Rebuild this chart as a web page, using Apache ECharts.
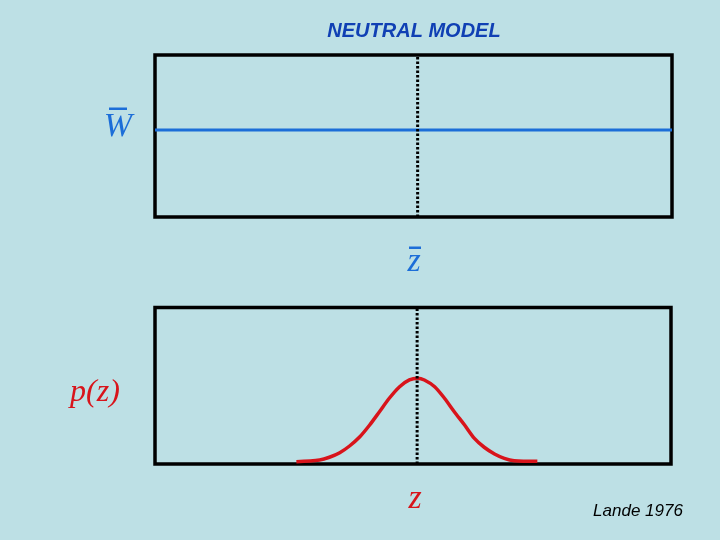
<!DOCTYPE html>
<html>
<head>
<meta charset="utf-8">
<script src="https://cdn.jsdelivr.net/npm/echarts@6/dist/echarts.min.js"></script>
<style>
html,body{margin:0;padding:0;background:#bde0e5;}
#chart{width:720px;height:540px;}
</style>
</head>
<body>
<div id="chart"></div>
<script>
// Data (x in percent of the trait axis, y in percent of panel height)
const zMean = 50.8;                 // position of z-bar
const fitnessLevel = 53.7;          // W-bar (flat: neutral model)
const fitnessX = [0, 100];
const curveX = [27.4, 31.9, 33.8, 35.8, 37.7, 39.7, 41.6, 43.5, 45.4, 47.4, 49.3, 50.9, 52.2, 54.2, 56.1, 58.0, 60.0, 61.9, 63.8, 65.8, 67.7, 69.6, 74.1];
const curveY = [1.5, 2.6, 4.3, 7.2, 11.5, 17.4, 24.9, 33.4, 42.0, 49.4, 53.7, 54.8, 53.7, 49.4, 42.0, 33.4, 24.9, 16.4, 10.7, 6.4, 3.6, 2.1, 1.7];
const titleText = 'NEUTRAL MODEL';
const creditText = 'Lande 1976';

const chart = echarts.init(document.getElementById('chart'));
const blue = '#1c6ed8';
const red = '#d8141b';
const hiddenAxis = {type:'value', min:0, max:100, show:true,
  axisLine:{show:false}, axisTick:{show:false}, axisLabel:{show:false}, splitLine:{show:false}};

chart.setOption({
  backgroundColor: '#bde0e5',
  animation: false,
  grid: [
    {left:155, top:55, width:517, height:162, show:true, borderColor:'#000', borderWidth:3.5, backgroundColor:'transparent'},
    {left:155, top:307.5, width:516, height:156.5, show:true, borderColor:'#000', borderWidth:3.5, backgroundColor:'transparent'}
  ],
  xAxis: [Object.assign({gridIndex:0}, hiddenAxis), Object.assign({gridIndex:1}, hiddenAxis)],
  yAxis: [Object.assign({gridIndex:0}, hiddenAxis), Object.assign({gridIndex:1}, hiddenAxis)],
  series: [
    {type:'line', xAxisIndex:0, yAxisIndex:0, showSymbol:false, z:3,
     data: fitnessX.map(x => [x, fitnessLevel]),
     lineStyle:{color:blue, width:3}},
    {type:'line', xAxisIndex:0, yAxisIndex:0, showSymbol:false, z:4,
     data: [[zMean, 0], [zMean, 100]],
     lineStyle:{color:'#000', width:3, type:[2.5,2]}},
    {type:'line', xAxisIndex:1, yAxisIndex:1, showSymbol:false, z:3, smooth:0.3,
     data: curveX.map((x,i) => [x, curveY[i]]),
     lineStyle:{color:red, width:3.5}},
    {type:'line', xAxisIndex:1, yAxisIndex:1, showSymbol:false, z:4,
     data: [[zMean, 0], [zMean, 100]],
     lineStyle:{color:'#000', width:3, type:[2.5,2]}}
  ],
  graphic: [
    {type:'text', x:414, y:31, style:{text:titleText, fill:'#1040b4', font:'italic bold 20px "Liberation Sans", Arial, sans-serif', align:'center', verticalAlign:'middle'}},
    {type:'text', x:118, y:127, style:{text:'W', fill:blue, font:'italic 34px "Liberation Serif", "Times New Roman", serif', align:'center', verticalAlign:'middle'}},
    {type:'rect', shape:{x:109, y:107.5, width:18, height:2.5}, style:{fill:blue}},
    {type:'text', x:414, y:262, style:{text:'z', fill:blue, font:'italic 34px "Liberation Serif", "Times New Roman", serif', align:'center', verticalAlign:'middle'}},
    {type:'rect', shape:{x:409, y:246.5, width:12, height:2.5}, style:{fill:blue}},
    {type:'text', x:95, y:393, style:{text:'p(z)', fill:red, font:'italic 32px "Liberation Serif", "Times New Roman", serif', align:'center', verticalAlign:'middle'}},
    {type:'text', x:415, y:499, style:{text:'z', fill:red, font:'italic 34px "Liberation Serif", "Times New Roman", serif', align:'center', verticalAlign:'middle'}},
    {type:'text', x:638, y:511, style:{text:creditText, fill:'#000', font:'italic 17px "Liberation Sans", Arial, sans-serif', align:'center', verticalAlign:'middle'}}
  ]
});
</script>
</body>
</html>
